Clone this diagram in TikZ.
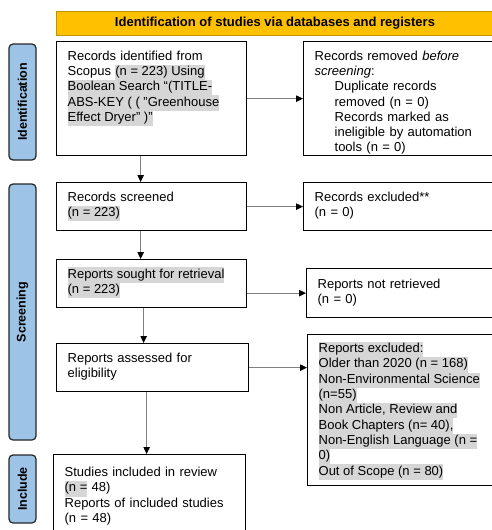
\documentclass[tikz,border=0pt]{standalone}
\usepackage{fontspec}
\setmainfont{Liberation Sans}
\usetikzlibrary{arrows.meta}
\definecolor{bannergold}{HTML}{FFC000}
\definecolor{bannerline}{HTML}{BF9000}
\definecolor{sideblue}{HTML}{9DC3E6}
\definecolor{hlgray}{HTML}{D6D6D6}
\definecolor{arrowgray}{HTML}{7F7F7F}
\newcommand{\hlt}[1]{\tikz[baseline=(hl.base)]\node[fill=hlgray,draw=none,inner sep=0pt,outer sep=0pt,text width=,align=none,text height=10.7pt,text depth=4.6pt,anchor=base] (hl) {#1};}

\begin{document}
\begin{tikzpicture}[x=1pt,y=-1pt,
  flowbox/.style={draw,line width=1.3pt,align=left,anchor=north west,inner xsep=11pt,inner ysep=0pt,text height=18.5pt,font=\fontsize{13}{15.3}\selectfont},
  sidetab/.style={draw=black!85,line width=1.2pt,fill=sideblue,rounded corners=4pt,rotate=90,inner sep=0pt,minimum height=27pt,font=\bfseries\fontsize{12.5}{14}\selectfont},
  flow/.style={draw=arrowgray,line width=0.9pt,-{Triangle[black,length=7pt,width=6.5pt]}}]
  \useasboundingbox (0,0) rectangle (492,530);
  \clip (0,0) rectangle (492,530);

  %banner and phases
  \node[draw=bannerline,line width=1pt,fill=bannergold,minimum width=438pt,minimum height=24pt,font=\bfseries\fontsize{13}{14}\selectfont] (banner) at (275,23) {Identification of studies via databases and registers};
  \node[sidetab,minimum width=116pt] (tabid) at (22.5,102) {Identification};
  \node[sidetab,minimum width=256pt] (tabscr) at (22.5,312) {Screening};
  \node[sidetab,minimum width=68pt] (tabinc) at (22.5,489) {Include};

  %left column
  \node[flowbox,text width=168pt,text depth=95.5pt] (ident) at (56,41) {Records identified from\\Scopus \hlt{(n = 223) Using}\\\hlt{Boolean Search “(TITLE-}\\\hlt{ABS-KEY ( ( "Greenhouse}\\\hlt{Effect Dryer" )"}};
  \node[flowbox,text width=168pt,text depth=29.5pt] (screened) at (56,182) {Records screened\\\hlt{(n = 223)}};
  \node[flowbox,text width=168pt,text depth=29.5pt] (sought) at (56,259) {\hlt{Reports sought for retrieval}\\\hlt{(n = 223)}};
  \node[flowbox,text width=170pt,text depth=29.5pt] (assessed) at (56,343) {Reports assessed for\\eligibility};
  \node[flowbox,text width=170pt,text height=22pt,text depth=68pt] (included) at (53,454) {Studies included in review\\\hlt{(n =} 48)\\Reports of included studies\\(n = 48)};

  %right column
  \node[flowbox,text width=178pt,text depth=95.5pt] (removed) at (303,41) {Records removed \textit{before}\\\textit{screening}:\\\hspace*{20pt}Duplicate records\\\hspace*{20pt}removed (n = 0)\\\hspace*{20pt}Records marked as\\\hspace*{20pt}ineligible by automation\\\hspace*{20pt}tools (n = 0)};
  \node[flowbox,text width=178pt,text depth=29.5pt] (excluded) at (303,182) {Records excluded**\\(n = 0)};
  \node[flowbox,text width=178pt,text height=20pt,text depth=29pt] (notretr) at (306,268) {Reports not retrieved\\(n = 0)};
  \node[flowbox,text width=178pt,text height=18pt,text depth=133pt] (rexcl) at (307,334) {\hlt{Reports excluded:}\\\hlt{Older than 2020 (n = 168)}\\\hlt{Non-Environmental Science}\\\hlt{(n=55)}\\\hlt{Non Article, Review and}\\\hlt{Book Chapters (n= 40),}\\\hlt{Non-English Language (n =}\\\hlt{0)}\\\hlt{Out of Scope (n = 80)}};

  %arrows
  \draw[flow] ([xshift=-11pt]ident.south) -- ([xshift=-11pt]screened.north);
  \draw[flow] ([xshift=-11pt]screened.south) -- ([xshift=-11pt]sought.north);
  \draw[flow] ([xshift=-8pt]sought.south) -- ([xshift=-8pt]sought.south |- assessed.north);
  \draw[flow] ([xshift=-6pt]assessed.south) -- ([xshift=-6pt]assessed.south |- included.north);
  \draw[flow] (ident.east) -- (ident.east -| removed.west);
  \draw[flow] (screened.east) -- (screened.east -| excluded.west);
  \draw[flow] (notretr.west -| sought.east) -- (notretr.west);
  \draw[flow] (assessed.east) -- (assessed.east -| rexcl.west);
\end{tikzpicture}
\end{document}
